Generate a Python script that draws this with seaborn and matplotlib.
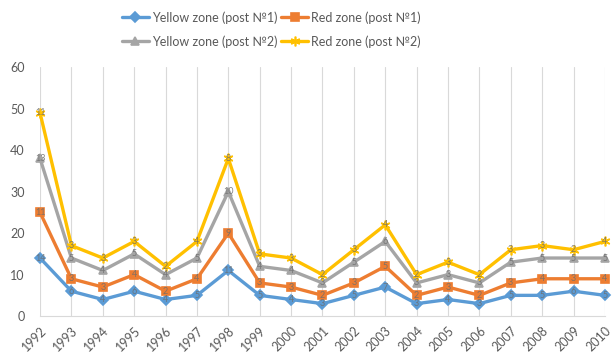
import matplotlib
matplotlib.use("Agg")
import matplotlib.pyplot as plt
import seaborn as sns
import pandas as pd
import numpy as np

years = [str(y) for y in range(1992, 2011)]

# Individual values per series (drawn stacked, labelled with own value)
yellow_post1 = [14, 6, 4, 6, 4, 5, 11, 5, 4, 3, 5, 7, 3, 4, 3, 5, 5, 6, 5]
red_post1    = [11, 3, 3, 4, 2, 4, 9, 3, 3, 2, 3, 5, 2, 3, 2, 3, 4, 3, 4]
yellow_post2 = [13, 5, 4, 5, 4, 5, 10, 4, 4, 3, 5, 6, 3, 3, 3, 5, 5, 5, 5]
red_post2    = [11, 3, 3, 3, 2, 4, 8, 3, 3, 2, 3, 4, 2, 3, 2, 3, 3, 2, 4]

series_names = ["Yellow zone (post №1)", "Red zone (post №1)",
                "Yellow zone (post №2)", "Red zone (post №2)"]
series_vals = [yellow_post1, red_post1, yellow_post2, red_post2]
colors = ["#5B9BD5", "#ED7D31", "#A5A5A5", "#FFC000"]
markers = ["D", "s", "^", (6, 2, 0)]
msizes = [5, 6, 6, 7]

sns.set_theme(style="white")
plt.rcParams["font.family"] = ["Lato", "DejaVu Sans"]

cum = np.cumsum(np.array(series_vals), axis=0)
rows = []
for name, own, stacked in zip(series_names, series_vals, cum):
    for i, (y, v, s) in enumerate(zip(years, own, stacked)):
        rows.append({"year": y, "idx": i, "series": name, "value": v, "stacked": s})
df = pd.DataFrame(rows)

fig = plt.figure(figsize=(6.16, 3.52), dpi=100)
ax = fig.add_axes([0.065, 0.102, 0.917, 0.707])

for name, col, mk, ms in zip(series_names, colors, markers, msizes):
    sub = df[df.series == name]
    sns.lineplot(data=sub, x="idx", y="stacked", ax=ax, color=col, linewidth=2.4,
                 marker=mk, markersize=ms, markeredgecolor=col,
                 markeredgewidth=1.2, label=name, clip_on=False, zorder=3)
    for _, r in sub.iterrows():
        ax.text(r["idx"], r["stacked"], str(r["value"]), ha="center", va="center",
                fontsize=6.5, color="#6E6E6E", alpha=0.85, zorder=4)

ax.set_xlim(0, 18)
ax.set_ylim(0, 60)
ax.set_yticks(range(0, 61, 10))
ax.set_xticks(range(len(years)))
ax.set_xticklabels(years, rotation=45, ha="right", rotation_mode="anchor")
ax.tick_params(axis="both", labelsize=9, colors="#595959", length=0)
ax.tick_params(axis="y", pad=11)
ax.tick_params(axis="x", pad=6)
ax.set_xlabel("")
ax.set_ylabel("")
ax.grid(axis="x", color="#D9D9D9", linewidth=0.8)
ax.grid(axis="y", visible=False)
for side in ["top", "right", "left"]:
    ax.spines[side].set_visible(False)
ax.spines["bottom"].set_color("#D9D9D9")
ax.spines["bottom"].set_linewidth(0.8)

handles, labels = ax.get_legend_handles_labels()
ax.get_legend().remove()
# two rows: post №1 on top, post №2 below (legend fills column-wise)
order = [0, 2, 1, 3]
fig.legend([handles[i] for i in order], [labels[i] for i in order],
           loc="upper center", bbox_to_anchor=(0.44, 1.0), ncol=2,
           frameon=False, fontsize=9, labelcolor="#595959", handlelength=2.2,
           handletextpad=0.2, columnspacing=0.3, labelspacing=0.9)

fig.savefig("out.png", dpi=100)
